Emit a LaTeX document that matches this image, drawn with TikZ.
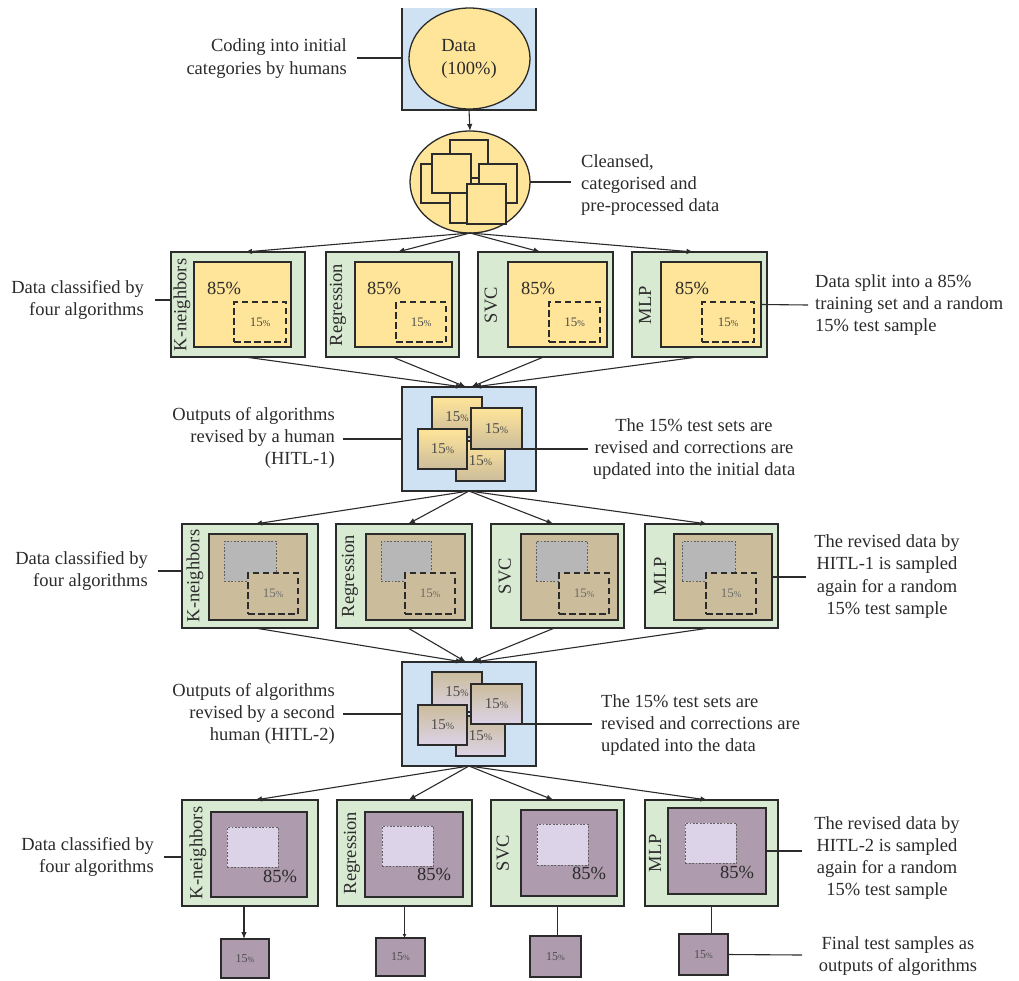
\documentclass[tikz,border=0pt]{standalone}
\usepackage{fontspec}
\setmainfont{Liberation Serif}
\usetikzlibrary{arrows.meta,shapes.geometric}

\definecolor{ink}{HTML}{2B2B2B}
\definecolor{bluefill}{HTML}{CFE2F3}
\definecolor{yellowfill}{HTML}{FFE599}
\definecolor{greenfill}{HTML}{D9EAD3}
\definecolor{tanfill}{HTML}{CBBC9B}
\definecolor{greyfill}{HTML}{B7B7B7}
\definecolor{mauvefill}{HTML}{AE9BAE}
\definecolor{lavfill}{HTML}{DCD3E8}

% rectangle node from its top-left and bottom-right corners (x1,y1,x2,y2)
\newcommand{\boxnode}[6]{%
  \pgfmathsetmacro\rbw{#5-#3}\pgfmathsetmacro\rbh{#6-#4}%
  \node[#1, anchor=north west, minimum width=\rbw pt, minimum height=\rbh pt] (#2) at (#3,#4) {};}
% "15%" with a smaller percent sign
\newcommand{\pct}[2]{{\fontsize{#1}{#1}\selectfont 15}{\fontsize{#2}{#2}\selectfont\%}}

\tikzset{
  frame/.style={draw=ink, line width=1.3pt, inner sep=0pt, outer sep=0pt},
  bluebox/.style={frame, fill=bluefill},
  greenbox/.style={frame, fill=greenfill},
  yelbox/.style={frame, fill=yellowfill},
  tanbox/.style={frame, fill=tanfill},
  mauvebox/.style={frame, fill=mauvefill},
  testbox/.style={frame, dash pattern=on 6.5pt off 3.5pt},
  tantest/.style={testbox, fill=tanfill},
  greybox/.style={draw=ink!75, line width=0.8pt, dash pattern=on 1.8pt off 1.6pt, fill=greyfill, inner sep=0pt},
  lavbox/.style={draw=ink!75, line width=0.8pt, dash pattern=on 1.8pt off 1.6pt, fill=lavfill, inner sep=0pt},
  paper/.style={frame},
  sheet/.style={frame, top color=yellowfill, bottom color=tanfill},
  sheetb/.style={frame, top color=tanfill, bottom color=lavfill},
  conn/.style={draw=ink, line width=1.1pt},
  arr/.style={conn, -{Latex[length=7pt,width=5.5pt]}},
  txt/.style={text=ink, inner sep=0pt},
  alg/.style={txt, rotate=90},
  pcttext/.style={txt, text=ink!85},
}

\begin{document}
\begin{tikzpicture}[x=1pt, y=-1pt, font=\fontsize{18.5}{22.3}\selectfont]
\useasboundingbox[fill=white] (0,0) rectangle (1019,980);

% ---------- raw data ----------
\boxnode{bluebox, draw=none}{b1}{402}{8}{536}{110}
\draw[conn, line width=1.3pt] (b1.north west) -- (b1.south west) -- (b1.south east) -- (b1.north east);
\node[frame, ellipse, fill=yellowfill, minimum width=121pt, minimum height=101pt] (e1) at (469.5,58.5) {};
\node[txt, align=left] (e1t) at (469,59) {Data\\(100\%)};

\node[txt, align=right, anchor=east] (t1) at (347,58.5) {Coding into initial\\categories by humans};
\coordinate (t1c) at (357,58);
\draw[conn] (t1c) -- (t1c -| b1.west);

% ---------- cleansed data ----------
\node[frame, ellipse, fill=yellowfill, minimum width=120pt, minimum height=102pt] (e2) at (470,182) {};
\draw[arr] (b1.south) -- (e2.north);
\boxnode{paper, fill=yellowfill}{pa}{450}{140}{488}{178}
\boxnode{paper, fill=yellowfill}{pb}{421}{164}{460}{203}
\boxnode{paper, fill=yellowfill}{pe}{450}{185}{488}{223}
\boxnode{paper, fill=yellowfill}{pc}{432}{154}{471}{193}
\boxnode{paper, fill=yellowfill}{pd}{479}{164}{517}{203}
\boxnode{paper, fill=yellowfill}{pf}{467}{184}{506}{224}

\node[txt, align=left, anchor=west] (t2) at (581,185) {Cleansed,\\categorised and\\pre-processed data};
\coordinate (t2c) at (571,182);
\draw[conn] (e2.east) -- (t2c);

% ---------- first classification ----------
\boxnode{greenbox}{g1k}{171}{252}{305}{357}
\boxnode{greenbox}{g1r}{326}{252}{459}{357}
\boxnode{greenbox}{g1s}{478}{252}{613}{357}
\boxnode{greenbox}{g1m}{632}{252}{767}{357}
\boxnode{yelbox}{y1k}{194}{262}{291}{347}
\boxnode{yelbox}{y1r}{355}{262}{452}{347}
\boxnode{yelbox}{y1s}{508}{262}{607}{347}
\boxnode{yelbox}{y1m}{661}{262}{761}{347}
\boxnode{testbox}{d1k}{234}{302}{286}{342}
\boxnode{testbox}{d1r}{396}{302}{446}{342}
\boxnode{testbox}{d1s}{549}{302}{600}{342}
\boxnode{testbox}{d1m}{702}{302}{754}{342}
\foreach \n in {d1k,d1r,d1s,d1m} \node[pcttext] at (\n.center) {\pct{13}{9}};
\node[txt] (p1k) at (224,288) {85\%};
\node[txt] (p1r) at (384,288) {85\%};
\node[txt] (p1s) at (538,288) {85\%};
\node[txt] (p1m) at (692,288) {85\%};
\node[alg] (a1k) at (182,305) {K-neighbors};
\node[alg] (a1r) at (338,305) {Regression};
\node[alg] (a1s) at (491,305) {SVC};
\node[alg] (a1m) at (645,305) {MLP};

\draw[arr] (e2.south) -- ([xshift=7pt]g1k.north);
\draw[arr] (e2.south) -- ([xshift=5pt]g1r.north);
\draw[arr] (e2.south) -- ([xshift=-5pt]g1s.north);
\draw[arr] (e2.south) -- ([xshift=-6pt]g1m.north);

\node[txt, align=right, anchor=east] (t3) at (144,300) {Data classified by\\four algorithms};
\coordinate (t3c) at (155,300);
\draw[conn] (t3c) -- (t3c -| g1k.west);
\node[txt, align=left, anchor=west] (t4) at (815,305) {Data split into a 85\%\\training set and a random\\15\% test sample};
\coordinate (t4c) at (808,305);
\draw[conn] (y1m.east) -- (t4c);

% ---------- first human revision ----------
\boxnode{bluebox}{b2}{402}{387}{536}{491}
\draw[arr] ([xshift=7pt]g1k.south) -- ([xshift=-6pt]b2.north);
\draw[arr] (g1r.south) -- ([xshift=-3pt]b2.north);
\draw[arr] ([xshift=-2pt]g1s.south) -- ([xshift=2pt]b2.north);
\draw[arr] ([xshift=-2pt]g1m.south) -- ([xshift=5pt]b2.north);
\boxnode{sheet}{q1a}{432}{397}{482}{437}
\boxnode{sheet}{q1d}{456}{441}{505}{481}
\boxnode{sheet}{q1c}{418}{429}{467}{469}
\boxnode{sheet}{q1b}{471}{408}{522}{449}
\foreach \n in {q1a,q1b,q1c,q1d} \node[pcttext] at (\n.center) {\pct{15}{10}};

\node[txt, align=right, anchor=east] (t5) at (335,438) {Outputs of algorithms\\revised by a human\\(HITL-1)};
\coordinate (t5c) at (343,439);
\draw[conn] (t5c) -- (t5c -| b2.west);
\node[txt, align=center] (t6) at (694,449) {The 15\% test sets are\\revised and corrections are\\updated into the initial data};
\coordinate (t6c) at (588,449);
\draw[conn] (q1b.south east) -- (t6c);

% ---------- second classification ----------
\boxnode{greenbox}{g2k}{182}{524}{318}{628}
\boxnode{greenbox}{g2r}{336}{524}{472}{628}
\boxnode{greenbox}{g2s}{491}{524}{624}{628}
\boxnode{greenbox}{g2m}{645}{524}{778}{628}
\boxnode{tanbox}{n2k}{209}{534}{307}{620}
\boxnode{tanbox}{n2r}{366}{534}{465}{620}
\boxnode{tanbox}{n2s}{521}{534}{618}{620}
\boxnode{tanbox}{n2m}{674}{534}{772}{620}
\boxnode{greybox}{r2k}{224}{541}{276}{581}
\boxnode{greybox}{r2r}{381}{541}{431}{581}
\boxnode{greybox}{r2s}{536}{541}{587}{581}
\boxnode{greybox}{r2m}{682}{541}{735}{581}
\boxnode{tantest}{d2k}{248}{573}{298}{614}
\boxnode{tantest}{d2r}{405}{573}{455}{614}
\boxnode{tantest}{d2s}{559}{573}{609}{614}
\boxnode{tantest}{d2m}{706}{573}{756}{614}
\foreach \n in {d2k,d2r,d2s,d2m} \node[pcttext, text=ink!70] at (\n.center) {\pct{13}{9}};
\node[alg] (a2k) at (195,576) {K-neighbors};
\node[alg] (a2r) at (350,576) {Regression};
\node[alg] (a2s) at (505,576) {SVC};
\node[alg] (a2m) at (660,576) {MLP};

\draw[arr] (b2.south) -- ([xshift=5pt]g2k.north);
\draw[arr] (b2.south) -- ([xshift=4pt]g2r.north);
\draw[arr] (b2.south) -- ([xshift=-4pt]g2s.north);
\draw[arr] (b2.south) -- ([xshift=-4pt]g2m.north);

\node[txt, align=right, anchor=east] (t7) at (148,571) {Data classified by\\four algorithms};
\coordinate (t7c) at (158,571);
\draw[conn] (t7c) -- (t7c -| g2k.west);
\node[txt, align=center] (t8) at (887,576.5) {The revised data by\\HITL-1 is sampled\\again for a random\\15\% test sample};
\coordinate (t8c) at (806,577);
\draw[conn] (n2m.east) -- (t8c);

% ---------- second human revision ----------
\boxnode{bluebox}{b3}{402}{662}{536}{766}
\draw[arr] ([xshift=5pt]g2k.south) -- ([xshift=-6pt]b3.north);
\draw[arr] ([xshift=4pt]g2r.south) -- ([xshift=-3pt]b3.north);
\draw[arr] ([xshift=-3pt]g2s.south) -- ([xshift=2pt]b3.north);
\draw[arr] ([xshift=-2pt]g2m.south) -- ([xshift=5pt]b3.north);
\boxnode{sheetb}{q2a}{432}{672}{482}{712}
\boxnode{sheetb}{q2d}{456}{716}{505}{756}
\boxnode{sheetb}{q2c}{418}{705}{467}{745}
\boxnode{sheetb}{q2b}{471}{684}{522}{724}
\foreach \n in {q2a,q2b,q2c,q2d} \node[pcttext] at (\n.center) {\pct{15}{10}};

\node[txt, align=right, anchor=east] (t9) at (335,714) {Outputs of algorithms\\revised by a second\\human (HITL-2)};
\coordinate (t9c) at (343,714);
\draw[conn] (t9c) -- (t9c -| b3.west);
\node[txt, align=left, anchor=west] (t10) at (601,725) {The 15\% test sets are\\revised and corrections are\\updated into the data};
\coordinate (t10c) at (592,724);
\draw[conn] (q2b.south east) -- (t10c);

% ---------- third classification ----------
\boxnode{greenbox}{g3k}{182}{800}{318}{906}
\boxnode{greenbox}{g3r}{337}{800}{472}{906}
\boxnode{greenbox}{g3s}{491}{800}{624}{906}
\boxnode{greenbox}{g3m}{645}{800}{778}{906}
\boxnode{mauvebox}{m3k}{211}{812}{307}{897}
\boxnode{mauvebox}{m3r}{365}{812}{463}{897}
\boxnode{mauvebox}{m3s}{521}{810}{617}{896}
\boxnode{mauvebox}{m3m}{668}{808}{766}{894}
\boxnode{lavbox}{l3k}{227}{827}{278}{867}
\boxnode{lavbox}{l3r}{382}{826}{433}{866}
\boxnode{lavbox}{l3s}{537}{824}{588}{865}
\boxnode{lavbox}{l3m}{685}{823}{736}{863}
\node[txt] (p3k) at (280,876) {85\%};
\node[txt] (p3r) at (434,874) {85\%};
\node[txt] (p3s) at (589,873) {85\%};
\node[txt] (p3m) at (737,872) {85\%};
\node[alg] (a3k) at (198,853) {K-neighbors};
\node[alg] (a3r) at (352,853) {Regression};
\node[alg] (a3s) at (503,853) {SVC};
\node[alg] (a3m) at (655,853) {MLP};

\draw[arr] (b3.south) -- ([xshift=5pt]g3k.north);
\draw[arr] (b3.south) -- ([xshift=4pt]g3r.north);
\draw[arr] (b3.south) -- ([xshift=-4pt]g3s.north);
\draw[arr] (b3.south) -- ([xshift=-4pt]g3m.north);

\node[txt, align=right, anchor=east] (t11) at (154,857) {Data classified by\\four algorithms};
\coordinate (t11c) at (164,857);
\draw[conn] (t11c) -- (t11c -| g3k.west);
\node[txt, align=center] (t12) at (887,858) {The revised data by\\HITL-2 is sampled\\again for a random\\15\% test sample};
\coordinate (t12c) at (802,851);
\draw[conn] (m3m.east) -- (t12c);

% ---------- final test samples ----------
\boxnode{mauvebox}{s3k}{221}{939}{269}{978}
\boxnode{mauvebox}{s3r}{376}{938}{425}{976}
\boxnode{mauvebox}{s3s}{530}{936}{581}{977}
\boxnode{mauvebox}{s3m}{679}{934}{728}{975}
\foreach \n in {s3k,s3r,s3s,s3m} \node[pcttext] at (\n.center) {\pct{12}{8}};
\draw[arr] ([xshift=-6pt]g3k.south) -- ([xshift=-6pt]g3k.south |- s3k.north);
\draw[arr, -{Latex[length=4pt,width=4pt]}] (g3r.south) -- (g3r.south |- s3r.north);
\draw[conn] (g3s.south) -- (g3s.south |- s3s.north);
\draw[conn] (g3m.south) -- (g3m.south |- s3m.north);

\node[txt, align=center] (t13) at (898,956) {Final test samples as\\outputs of algorithms};
\coordinate (t13c) at (802,955);
\draw[conn] (s3m.east) -- (t13c);
\end{tikzpicture}
\end{document}
